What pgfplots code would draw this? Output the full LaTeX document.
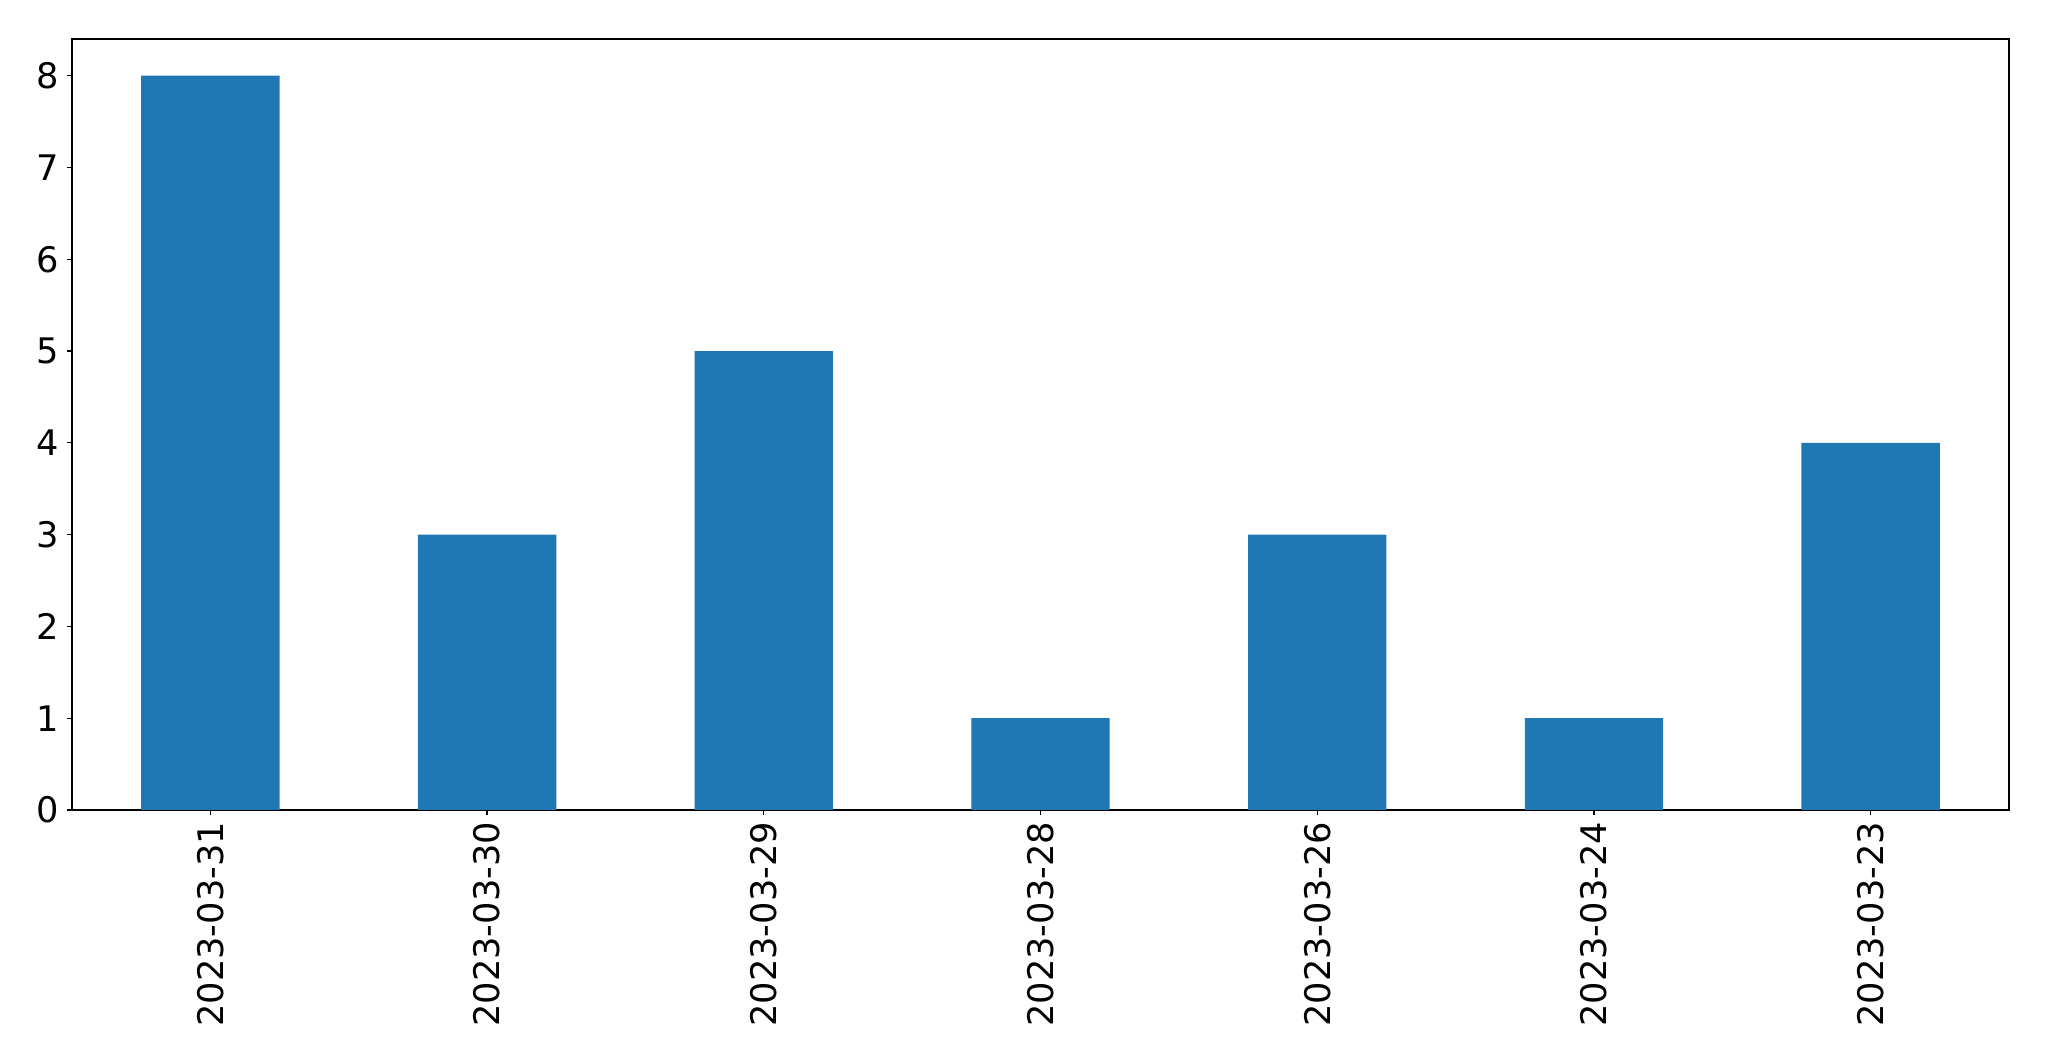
\documentclass[border=0pt]{standalone}
\usepackage{fontspec}
\setmainfont{DejaVu Sans}
\usepackage{pgfplots}
\pgfplotsset{compat=1.18}
\usetikzlibrary{calc}
\definecolor{mplblue}{HTML}{1F77B4}
\begin{document}
\begin{tikzpicture}
\begin{axis}[
    name=ax,
    scale only axis,
    width=968.5pt, height=385.5pt,
    ybar, bar width=0.5,
    xmin=-0.5, xmax=6.5,
    ymin=0, ymax=8.4,
    xtick=data,
    xticklabels={2023-03-31,2023-03-30,2023-03-29,2023-03-28,2023-03-26,2023-03-24,2023-03-23},
    ytick={0,1,...,8},
    tick align=outside,
    major tick length=2.5pt,
    tick style={black, line width=0.6pt},
    axis line style={line width=0.6pt},
    xtick pos=bottom, ytick pos=left,
    /pgf/number format/assume math mode=true,
    tick label style={font=\fontsize{17.6}{21}\selectfont},
    x tick label style={rotate=90, anchor=east},
    yticklabel style={xshift=-0.5pt},
  ]
\addplot[fill=mplblue, draw=none] coordinates {
  (0,8) (1,3) (2,5) (3,1) (4,3) (5,1) (6,4)};
\end{axis}
\pgfresetboundingbox
\path ($(ax.south west)+(-36pt,-125.5pt)$) rectangle ($(ax.north east)+(20pt,19.5pt)$);
\end{tikzpicture}
\end{document}
